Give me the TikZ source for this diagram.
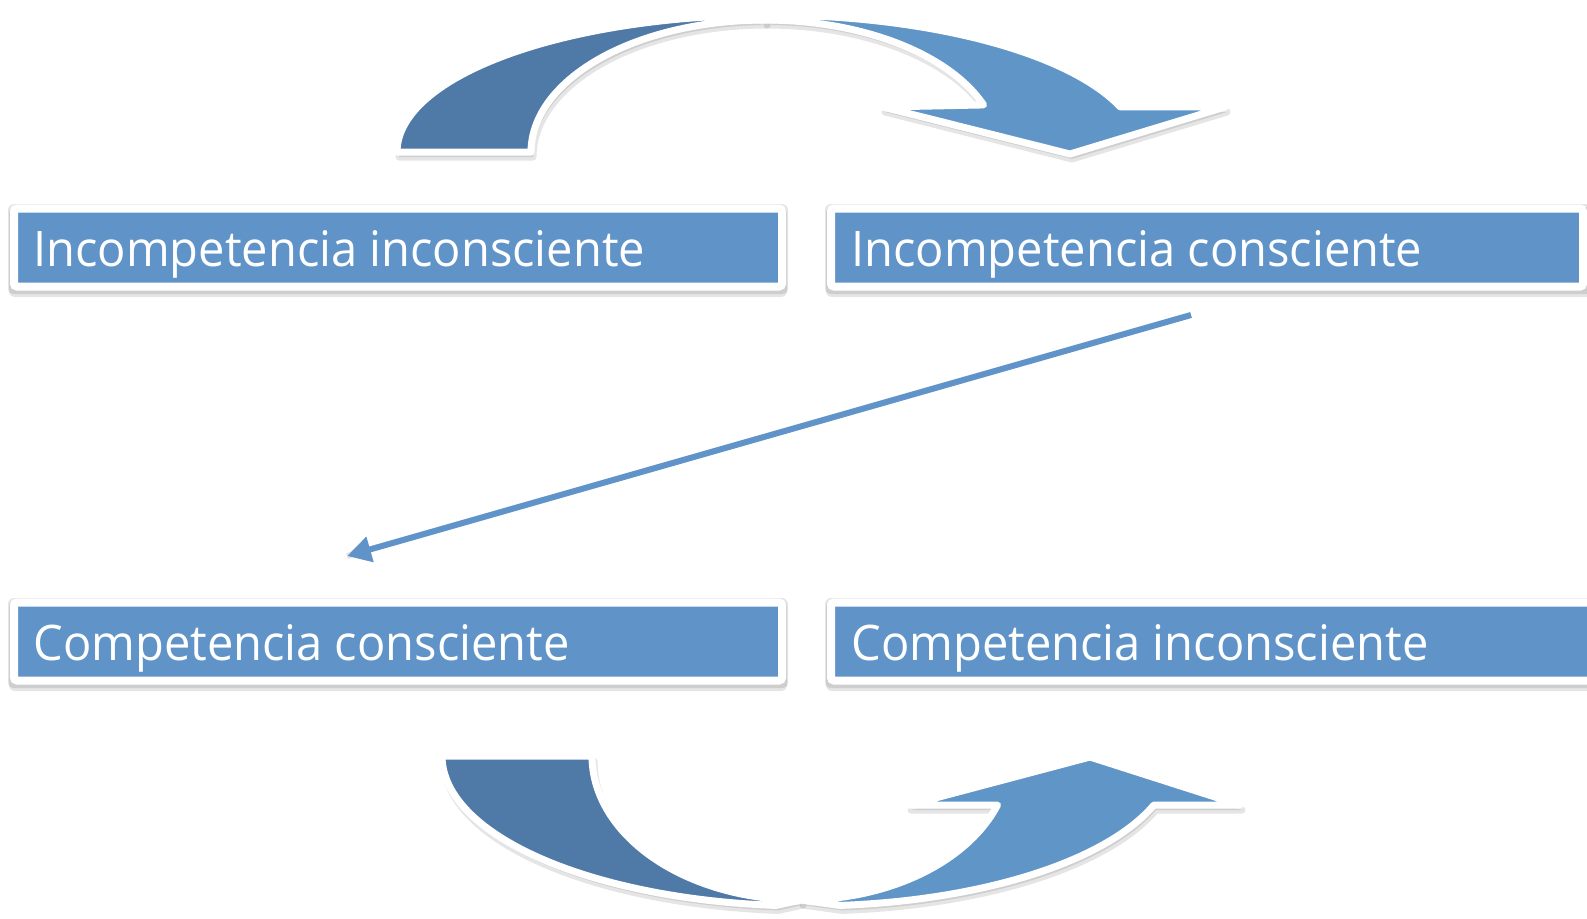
\documentclass[tikz,border=0pt]{standalone}
\usepackage{fontspec}
\setmainfont{Open Sans}
\usetikzlibrary{arrows.meta}
\definecolor{boxblue}{HTML}{6094C9}
\definecolor{darkblue}{HTML}{4F7AA8}
\definecolor{lightblue}{HTML}{6095C8}
\def\pathTopDark{plot[domain=180:263.5, samples=50] ({769+372*cos(\x)},{152+137*sin(\x)}) -- (765,20) -- plot[domain=270:180, samples=50] ({765+234*cos(\x)},{152+132*sin(\x)}) -- cycle}
\def\pathTopLight{(765,20) -- plot[domain=274.6:340.8, samples=50] ({769+372*cos(\x)},{152+137*sin(\x)}) -- (1225,107) -- (1070,154) -- (883,107) -- plot[domain=339.1:270, samples=50] ({765+234*cos(\x)},{152+132*sin(\x)}) -- cycle}
\def\pathBotDark{plot[domain=180:95, samples=50] ({808+366*cos(\x)},{756+150*sin(\x)}) -- (801,900) -- plot[domain=90:180, samples=50] ({801+209*cos(\x)},{756+144*sin(\x)}) -- cycle}
\def\pathBotLight{(801,900) -- plot[domain=85:19.07, samples=50] ({808+366*cos(\x)},{756+150*sin(\x)}) -- (1240,805) -- (1090,757) -- (909,805) -- plot[domain=19.9:90, samples=50] ({801+209*cos(\x)},{756+144*sin(\x)}) -- cycle}
\newcommand\lbltext[1]{\scalebox{0.96}[1]{#1}}
\begin{document}
\begin{tikzpicture}[x=0.5pt,y=-0.5pt,
  piece/.style={draw=white, line width=3.5pt, line join=round},
  pshadow/.style={fill=black, fill opacity=0.10, draw=black, draw opacity=0.10, line width=3.5pt, line join=round},
  box/.style={fill=boxblue, draw=white, line width=4pt, rounded corners=1.5pt, inner sep=0pt},
  bshadow/.style={fill=black, opacity=0.10, rounded corners=3pt},
  lbl/.style={anchor=base west, inner sep=0pt, text=white, font=\fontsize{24.5pt}{28pt}\selectfont},
  diag/.style={draw=boxblue, line width=3pt, -{Triangle[length=12pt,width=12.5pt]}}
]
\useasboundingbox (0,0) rectangle (1587,918);
% shadows of curved arrows
\path[pshadow, shift={(2,5)}] \pathTopDark;
\path[pshadow, shift={(2,5)}] \pathTopLight;
\path[pshadow, shift={(2,5)}] \pathBotDark;
\path[pshadow, shift={(2,5)}] \pathBotLight;
% curved arrows
\path[piece, fill=lightblue] \pathTopLight;
\path[piece, fill=darkblue] \pathTopDark;
\path[piece, fill=lightblue] \pathBotLight;
\path[piece, fill=darkblue] \pathBotDark;
% box shadows
\foreach \ya/\yb in {204/294, 598/688} {
  \fill[bshadow] (8,\ya) rectangle (788,\yb);
  \fill[bshadow] (9,\ya+3) rectangle (787,\yb+3);
  \fill[bshadow] (825,\ya) rectangle (1600,\yb);
  \fill[bshadow] (826,\ya+3) rectangle (1600,\yb+3);
}
% boxes
\node[box, minimum width=384pt, minimum height=39pt] (b1) at (398,247.5) {};
\node[box, minimum width=376pt, minimum height=39pt] (b2) at (1207,247.5) {};
\node[box, minimum width=384pt, minimum height=39pt] (b3) at (398,641.5) {};
\node[box, minimum width=390pt, minimum height=39pt] (b4) at (1221,641.5) {};
% labels
\node[lbl] (t1) at (33,266) {\lbltext{Incompetencia inconsciente}};
\node[lbl] (t2) at (851,266) {\lbltext{Incompetencia consciente}};
\node[lbl] (t3) at (33,660) {\lbltext{Competencia consciente}};
\node[lbl] (t4) at (851,660) {\lbltext{Competencia inconsciente}};
% diagonal arrow
\coordinate (ds) at (1191,315);
\coordinate (de) at (347,556);
\draw[draw=black, opacity=0.1, line width=3pt, shift={(1,4)}] (ds) -- (de);
\draw[diag] (ds) -- (de);
\end{tikzpicture}
\end{document}
